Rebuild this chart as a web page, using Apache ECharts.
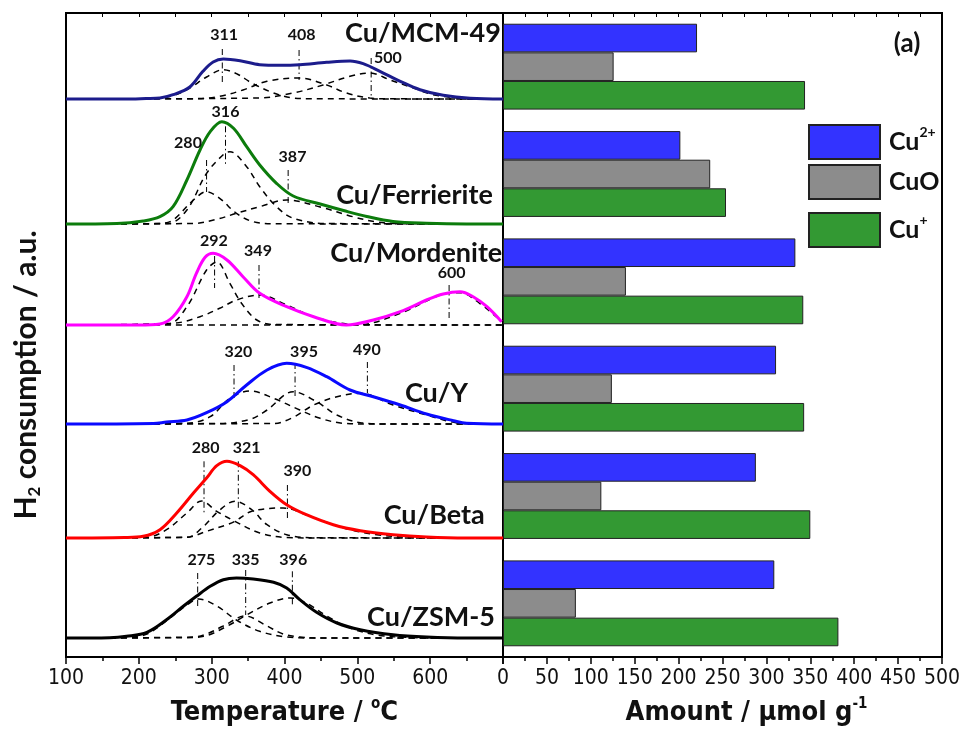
<!DOCTYPE html>
<html><head><meta charset="utf-8">
<script src="https://cdn.jsdelivr.net/npm/echarts@6/dist/echarts.min.js"></script>
<style>html,body{margin:0;padding:0;background:#fff}#c{width:962px;height:731px}</style>
</head><body><div id="c"></div>
<script>
// ---------------- DATA ----------------
const samples = ['Cu/MCM-49','Cu/Ferrierite','Cu/Mordenite','Cu/Y','Cu/Beta','Cu/ZSM-5'];
const baselineOffsets = [558, 433, 332, 233, 119, 19];   // a.u. offsets of stacked TPR profiles

// main TPR profiles [T(°C), H2 signal a.u. above baseline]
const mcmMain = [[100,0],[180,0],[210,0.5],[229,1],[247,4.3],[270,12],[288,27.7],[302,37],[316,40],[339,38.3],[366,34.3],[394,33.7],[421,34.3],[458,36.7],[490,38],[508,35.3],[531,27.7],[559,17.7],[586,9.3],[618,3.7],[655,0.7],[700,0]];
const ferMain = [[100,0],[170,0.5],[206,3],[229,7.3],[247,17.3],[266,44],[284,74],[298,92.3],[314,102.3],[330,95.7],[348,77.3],[366,59],[389,40.7],[412,28],[449,20],[481,13.5],[513,7.5],[549,2.5],[595,0.7],[650,0],[700,0]];
const morMain = [[100,0],[200,0],[229,1],[247,8.3],[266,28.3],[279,51.7],[291,67.7],[302,71.7],[321,65],[343,48.3],[366,31.7],[403,18.3],[440,8.3],[485,0],[522,5],[559,13.3],[595,25],[618,31],[641,33.3],[659,28.3],[678,18.3],[698,3.3]];
const yMain   = [[100,0],[220,0.5],[238,2],[266,4],[293,11.3],[321,22.3],[348,39],[376,54],[403,60.7],[430,56.7],[458,47.3],[490,34],[522,27.3],[559,19],[595,10],[632,3.3],[650,0.7],[700,0]];
const betaMain= [[100,0],[180,0.5],[206,1.7],[229,8.3],[252,25],[275,45],[293,60],[307,72.3],[321,76.7],[339,72.3],[357,63.3],[380,46.7],[403,33.3],[430,23.3],[467,13.3],[504,7.3],[549,3.3],[595,1],[650,0],[700,0]];
const zsmMain = [[100,0],[160,0.3],[183,1.7],[211,5.7],[238,18.3],[261,31.7],[279,41.7],[298,51.7],[316,58.3],[334,60],[357,59],[385,55.7],[403,50],[421,38.3],[444,25.7],[472,15],[504,8.3],[549,3.3],[595,1],[650,0],[700,0]];

// deconvoluted components
const mcmComps = [
  [[100,0],[210,0.3],[229,1],[247,3.3],[270,11],[293,22],[316,29.3],[335,25],[355,16],[385,6],[412,1],[440,0.2],[700,0]],
  [[100,0],[280,0.3],[311,2.7],[343,9],[376,17.7],[421,21],[458,14],[485,6],[517,1],[545,0.2],[700,0]],
  [[100,0],[366,1],[412,6],[453,14],[490,22.7],[517,26],[545,19],[577,11],[604,4.3],[641,0.7],[670,0],[700,0]]
];
const ferComps = [
  [[100,0],[229,0.5],[247,4],[275,24],[293,32.3],[311,25.7],[334,10.7],[357,2.3],[390,0.2],[700,0]],
  [[100,0],[240,0.5],[266,14],[293,50.7],[318,70.7],[325,72.3],[348,57.3],[366,37.3],[389,17.3],[412,5.7],[458,0.5],[700,0]],
  [[100,0],[275,0.5],[307,4.7],[334,10.7],[366,17.3],[403,24],[449,17],[494,7.3],[527,2],[560,0.3],[700,0]]
];
const morComps = [
  [[100,0],[240,1],[266,18.3],[293,55],[307,63],[325,41.7],[341,21.7],[362,5],[385,0.5],[700,0]],
  [[100,0],[247,1.7],[284,8.3],[311,16.7],[334,25],[366,30],[403,20],[440,8.3],[485,1],[520,0],[700,0]],
  [[100,0],[480,0],[504,0.3],[559,11.7],[614,30],[641,32.3],[668,21.7],[696,5],[700,3]]
];
const yComps = [
  [[100,0],[266,0.7],[298,7.3],[325,25.7],[353,33],[385,25.7],[421,14],[449,5.7],[481,0.7],[520,0],[700,0]],
  [[100,0],[311,0.5],[353,4.7],[376,14],[412,32.3],[444,22.3],[472,9],[504,1.3],[540,0],[700,0]],
  [[100,0],[385,0.5],[412,6.7],[440,19],[472,27.3],[504,30.7],[549,19],[595,9],[641,0.7],[670,0],[700,0]]
];
const betaComps = [
  [[100,0],[211,0.7],[238,8.3],[266,25],[286,37],[307,26.7],[332,16.7],[366,5],[403,0.5],[450,0],[700,0]],
  [[100,0],[266,0.7],[289,11.7],[309,26.7],[332,36.7],[355,28.3],[376,13.3],[403,3.3],[435,0.3],[700,0]],
  [[100,0],[266,0.7],[293,6.7],[321,13.3],[332,16.7],[355,26.7],[398,30],[435,21.7],[481,10],[527,3.3],[572,0.7],[620,0],[700,0]]
];
const zsmComps = [
  [[100,0],[183,0.7],[211,4],[243,20],[266,33],[282,39],[307,32],[334,18],[366,6.7],[403,1],[440,0],[700,0]],
  [[100,0],[275,1],[293,4],[316,12],[346,22],[376,12],[398,4],[421,1],[450,0],[700,0]],
  [[100,0],[260,0.3],[289,1.7],[321,11.7],[348,23],[380,35],[408,40],[430,35],[458,22],[490,10],[527,3],[572,0.5],[620,0],[700,0]]
];

// peak marker lines [T, top, bottom] (a.u. above baseline)
const mcmMarks  = [[314.6,50,16],[420,49,19],[519,41,2.7]];
const ferMarks  = [[293,64,32],[319,97.7,59],[405,54,20.7]];
const morMarks  = [[304,69,37],[365,60,27],[626,40,5]];
const yMarks    = [[330.7,59,26],[414.5,61,26],[513.8,62,30.7]];
const betaMarks = [[289.5,76.7,23.3],[336.6,76.7,30],[404,53,18.3]];
const zsmMarks  = [[280.8,65,30],[346.7,68,23],[410.8,66.7,31.7]];

// peak labels [T, height above baseline, text]
const mcmPeaks  = [[317,64,'311'],[423.6,64,'408'],[542,41,'500']];
const ferPeaks  = [[267.5,81,'280'],[319,112,'316'],[411,67,'387']];
const morPeaks  = [[303,84,'292'],[363.6,74,'349'],[629.6,52,'600']];
const yPeaks    = [[336.6,72,'320'],[426.8,72,'395'],[513,74,'490']];
const betaPeaks = [[291.8,90,'280'],[348,90,'321'],[417.6,67,'390']];
const zsmPeaks  = [[286,78,'275'],[346.7,78,'335'],[412,78,'396']];

// sample name anchors [T right edge, height above baseline]
const nameAnchors = [[697,66],[686,29],[699,72],[652,31],[675,23],[689,21]];

// bar chart amounts (µmol g-1)
const speciesNames = ['Cu2+','CuO','Cu+'];
const cu2Amount = [221, 202, 333, 311, 288, 309];
const cuoAmount = [126, 236, 140, 124, 112, 83];
const cu1Amount = [344, 254, 342, 343, 350, 382];

// tick settings
const tempTicks = {min:100, max:700, interval:100};
const amountTicks = {min:0, max:500, interval:50};

// ---------------- STYLE ----------------
const mains = [mcmMain, ferMain, morMain, yMain, betaMain, zsmMain];
const comps = [mcmComps, ferComps, morComps, yComps, betaComps, zsmComps];
const marks = [mcmMarks, ferMarks, morMarks, yMarks, betaMarks, zsmMarks];
const peaks = [mcmPeaks, ferPeaks, morPeaks, yPeaks, betaPeaks, zsmPeaks];
const curveColors = ['#1c1c8c','#0c7c0c','#ff00ff','#0a0aff','#ff0000','#000000'];
const barColors = ['#3333ff','#8c8c8c','#339933'];
const NARROW = "'Liberation Sans Narrow','Arial Narrow','DejaVu Sans Condensed',sans-serif";
const BOLD = "Lato,'Open Sans',sans-serif";

const series = [];
samples.forEach((nm, i) => {
  const off = baselineOffsets[i];
  comps[i].forEach(c => series.push({
    type:'line', xAxisIndex:0, yAxisIndex:0, silent:true, symbol:'none', smooth:0.35, z:2,
    data: c.map(p => [p[0], p[1] + off]),
    lineStyle:{color:'#000', width:1.5, type:[6,5]}
  }));
  marks[i].forEach(m => series.push({
    type:'line', xAxisIndex:0, yAxisIndex:0, silent:true, symbol:'none', z:3,
    data: [[m[0], m[1] + off], [m[0], m[2] + off]],
    lineStyle:{color:'#000', width:1, type:[6,3,1.5,3]}
  }));
  series.push({
    type:'line', xAxisIndex:0, yAxisIndex:0, silent:true, symbol:'none', smooth:0.35, z:4,
    data: mains[i].map(p => [p[0], p[1] + off]),
    lineStyle:{color:curveColors[i], width:3}
  });
});
// peak labels
const peakData = [];
peaks.forEach((arr, i) => arr.forEach(p => peakData.push([p[0], p[1] + baselineOffsets[i], p[2]])));
series.push({
  type:'scatter', xAxisIndex:0, yAxisIndex:0, silent:true, symbolSize:0, z:6, data: peakData,
  itemStyle:{opacity:1},
  label:{show:true, position:'inside', formatter: p => p.value[2], color:'#111',
         fontFamily:BOLD, fontWeight:'bold', fontSize:16}
});
// sample names
series.push({
  type:'scatter', xAxisIndex:0, yAxisIndex:0, silent:true, symbolSize:0, z:6,
  itemStyle:{opacity:1},
  data: nameAnchors.map((a, i) => [a[0], a[1] + baselineOffsets[i], samples[i]]),
  label:{show:true, position:'inside', align:'right', verticalAlign:'middle', formatter: p => p.value[2],
         color:'#111', fontFamily:BOLD, fontWeight:'bold', fontSize:27}
});
// bars
[cu2Amount, cuoAmount, cu1Amount].forEach((vals, k) => series.push({
  type:'bar', name: speciesNames[k], xAxisIndex:2, yAxisIndex:1, data: vals,
  barGap:'0%', barCategoryGap:'20%',
  itemStyle:{color:barColors[k], borderColor:'#222', borderWidth:1}
}));

const legendRich = {
  b:{fontFamily:BOLD, fontWeight:'bold', fontSize:25, color:'#111', lineHeight:34, verticalAlign:'middle', padding:[0,0,0,4]},
  s:{fontFamily:BOLD, fontWeight:'bold', fontSize:14, color:'#111', lineHeight:34, verticalAlign:'top', padding:[0,0,14,0]}
};
const legendFmt = n => n === 'Cu2+' ? '{b|Cu}{s|2+}' : (n === 'Cu+' ? '{b|Cu}{s|+}' : '{b|CuO}');
const legendTops = [119, 159, 207];
const legends = speciesNames.map((n, k) => ({
  data:[n], left:803, top:legendTops[k], itemWidth:71, itemHeight:34, icon:'rect',
  selectedMode:false, formatter: legendFmt, textStyle:{rich: legendRich}
}));

const tickLabelStyle = {fontFamily:NARROW, fontSize:21, color:'#111', margin:11};
const nameRich = {
  t:{fontFamily:NARROW, fontWeight:'bold', fontSize:27, color:'#111', lineHeight:32, verticalAlign:'middle'},
  s:{fontFamily:NARROW, fontWeight:'bold', fontSize:15, color:'#111', lineHeight:32, verticalAlign:'top'}
};

const option = {
  animation:false,
  backgroundColor:'#fff',
  grid:[
    {left:66, right:459, top:13, bottom:74, show:true, borderColor:'#000', borderWidth:2, outerBoundsMode:'none', containLabel:false},
    {left:503, right:20, top:13, bottom:74, show:true, borderColor:'#000', borderWidth:2, outerBoundsMode:'none', containLabel:false}
  ],
  legend: legends,
  xAxis:[
    {type:'value', gridIndex:0, position:'bottom', min:tempTicks.min, max:tempTicks.max, interval:tempTicks.interval,
     axisLine:{show:false}, splitLine:{show:false},
     axisTick:{show:true, inside:false, length:7, lineStyle:{color:'#000', width:1.5}},
     minorTick:{show:true, splitNumber:2, length:4, lineStyle:{color:'#000', width:1.5}},
     axisLabel:Object.assign({formatter: v => v === tempTicks.max ? '' : String(v)}, tickLabelStyle),
     name:'{t|Temperature / }{s|o}{t|C}', nameLocation:'middle', nameGap:40, nameTextStyle:{rich:nameRich}},
    {type:'value', gridIndex:0, position:'top', min:tempTicks.min, max:tempTicks.max, interval:50,
     axisLine:{show:false}, splitLine:{show:false}, axisLabel:{show:false},
     axisTick:{show:true, inside:true, length:4, lineStyle:{color:'#000', width:1}}},
    {type:'value', gridIndex:1, position:'bottom', min:amountTicks.min, max:amountTicks.max, interval:amountTicks.interval,
     axisLine:{show:false}, splitLine:{show:false},
     axisTick:{show:true, inside:false, length:7, lineStyle:{color:'#000', width:1.5}},
     minorTick:{show:true, splitNumber:2, length:4, lineStyle:{color:'#000', width:1.5}},
     axisLabel:tickLabelStyle,
     name:'{t|Amount / μmol g}{s|-1}', nameLocation:'middle', nameGap:40,
     nameTextStyle:{rich:nameRich, padding:[0,0,0,48]}},
    {type:'value', gridIndex:1, position:'top', min:amountTicks.min, max:amountTicks.max, interval:25,
     axisLine:{show:false}, splitLine:{show:false}, axisLabel:{show:false},
     axisTick:{show:true, inside:true, length:4, lineStyle:{color:'#000', width:1}}}
  ],
  yAxis:[
    {type:'value', gridIndex:0, min:0, max:644, show:false},
    {type:'category', gridIndex:1, data:samples, inverse:true,
     axisLine:{show:false}, axisTick:{show:false}, axisLabel:{show:false}, splitLine:{show:false}}
  ],
  graphic:[
    {type:'text', x:26, y:375, rotation:Math.PI/2, silent:true,
     style:{text:'{t|H}{d|2}{t| consumption / a.u.}', align:'center', verticalAlign:'middle',
       rich:{
         t:{font:"bold 30px Lato, 'Open Sans', sans-serif", fill:'#111', lineHeight:34, verticalAlign:'middle'},
         d:{font:"bold 17px Lato, 'Open Sans', sans-serif", fill:'#111', lineHeight:34, verticalAlign:'bottom'}
       }}},
    {type:'text', x:907, y:44, silent:true,
     style:{text:'(a)', font:"bold 26px Lato, 'Open Sans', sans-serif", fill:'#111', align:'center', verticalAlign:'middle'}}
  ],
  series: series
};
const chart = echarts.init(document.getElementById('c'), null, {renderer:'canvas'});
chart.setOption(option);
</script>
</body></html>
